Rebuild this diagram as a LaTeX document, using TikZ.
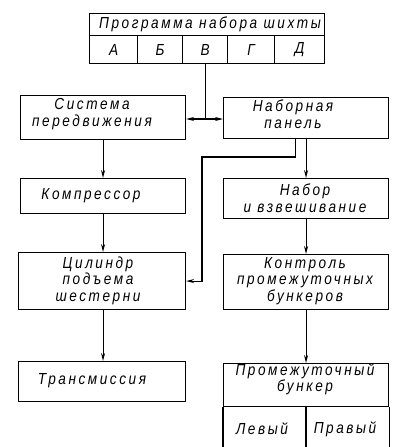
\documentclass[tikz,border=0pt]{standalone}
\usepackage{fontspec}
\setmainfont{Liberation Sans}
\newfontfamily\gost[LetterSpace=16,FakeStretch=0.85]{Liberation Sans}
\usetikzlibrary{arrows.meta}
\begin{document}
\begin{tikzpicture}[x=1pt,y=-1pt,
  ln/.style={line width=1.1pt},
  box/.style={draw, line width=1.1pt, inner sep=0pt, anchor=north west, minimum width=165pt},
  cell/.style={draw, line width=1.1pt, inner sep=0pt, anchor=north west, minimum height=28pt},
  txt/.style={font=\gost\itshape\fontsize{16}{16.5}\selectfont, align=center, inner sep=0pt},
  arr/.style={-{Stealth[length=8pt,width=4pt]}, line width=1.1pt}]
\useasboundingbox (0,0) rectangle (400,447);
% top program box
\node[draw, line width=1.1pt, inner sep=0pt, anchor=north west, minimum width=235pt, minimum height=22pt] (prog) at (89,13) {};
\node[txt] (progt) at (210,24.5) {Программа набора шихты};
\node[cell, minimum width=48pt] (cA) at (89,35) {};
\node[cell, minimum width=45pt] (cB) at (137,35) {};
\node[cell, minimum width=45pt] (cV) at (182,35) {};
\node[cell, minimum width=47pt] (cG) at (227,35) {};
\node[cell, minimum width=50pt] (cD) at (274,35) {};
\node[txt] (tA) at (cA.center) {А};
\node[txt] (tB) at (cB.center) {Б};
\node[txt] (tV) at (cV.center) {В};
\node[txt] (tG) at (cG.center) {Г};
\node[txt] (tD) at (cD.center) {Д};
% left column
\node[box, minimum height=44pt] (sys) at (20,95) {};
\node[txt] (syst) at (92,114) {Система\\передвижения};
\node[box, minimum height=35pt] (comp) at (20,178) {};
\node[txt] (compt) at (91,195.5) {Компрессор};
\node[box, minimum width=167pt, minimum height=57pt] (cyl) at (18,252) {};
\node[txt] (cylt) at (98,280.5) {Цилиндр\\подъема\\шестерни};
\node[box, minimum width=167pt, minimum height=40pt] (tr) at (18,361) {};
\node[txt] (trt) at (92,381) {Трансмиссия};
% right column
\node[box, minimum height=41pt] (panel) at (223,97) {};
\node[txt] (panelt) at (293,114) {Наборная\\панель};
\node[box, minimum height=40pt] (nab) at (223,178) {};
\node[txt] (nabt) at (305,198) {Набор\\и взвешивание};
\node[box, minimum height=55pt] (ctl) at (223,254) {};
\node[txt] (ctlt) at (305,281) {Контроль\\промежуточных\\бункеров};
\node[box, minimum height=43pt] (pb) at (223,363) {};
\node[txt] (pbt) at (305,379) {Промежуточный\\бункер};
\node[txt] (lev) at (262,429) {Левый};
\node[txt] (prav) at (345,429) {Правый};
\coordinate (d1) at (306,406);
\draw[ln] (pb.south west) -- ++(0,42);
\draw[ln] (pb.south east) -- ++(0,42);
\draw[ln] (d1) -- ++(0,42);
% connectors
\coordinate (j) at (cV.south |- 0,119);
\draw[ln] (cV.south) -- (j);
\draw[arr] (j) -- (sys.east |- j);
\draw[arr] (j) -- (panel.west |- j);
\draw[arr] (sys.south -| comp.north) -- (comp.north);
\draw[arr] (comp.south) -- (comp.south |- cyl.north);
\draw[arr] (cyl.south -| comp.south) -- (comp.south |- tr.north);
\draw[arr] (panel.south) -- (nab.north);
\draw[arr] (nab.south) -- (ctl.north);
\draw[arr] (ctl.south) -- (pb.north);
\coordinate (k1) at (202,157);
\draw[arr] ([xshift=-11pt]panel.south) |- (k1) |- (cyl.east);
\end{tikzpicture}
\end{document}
